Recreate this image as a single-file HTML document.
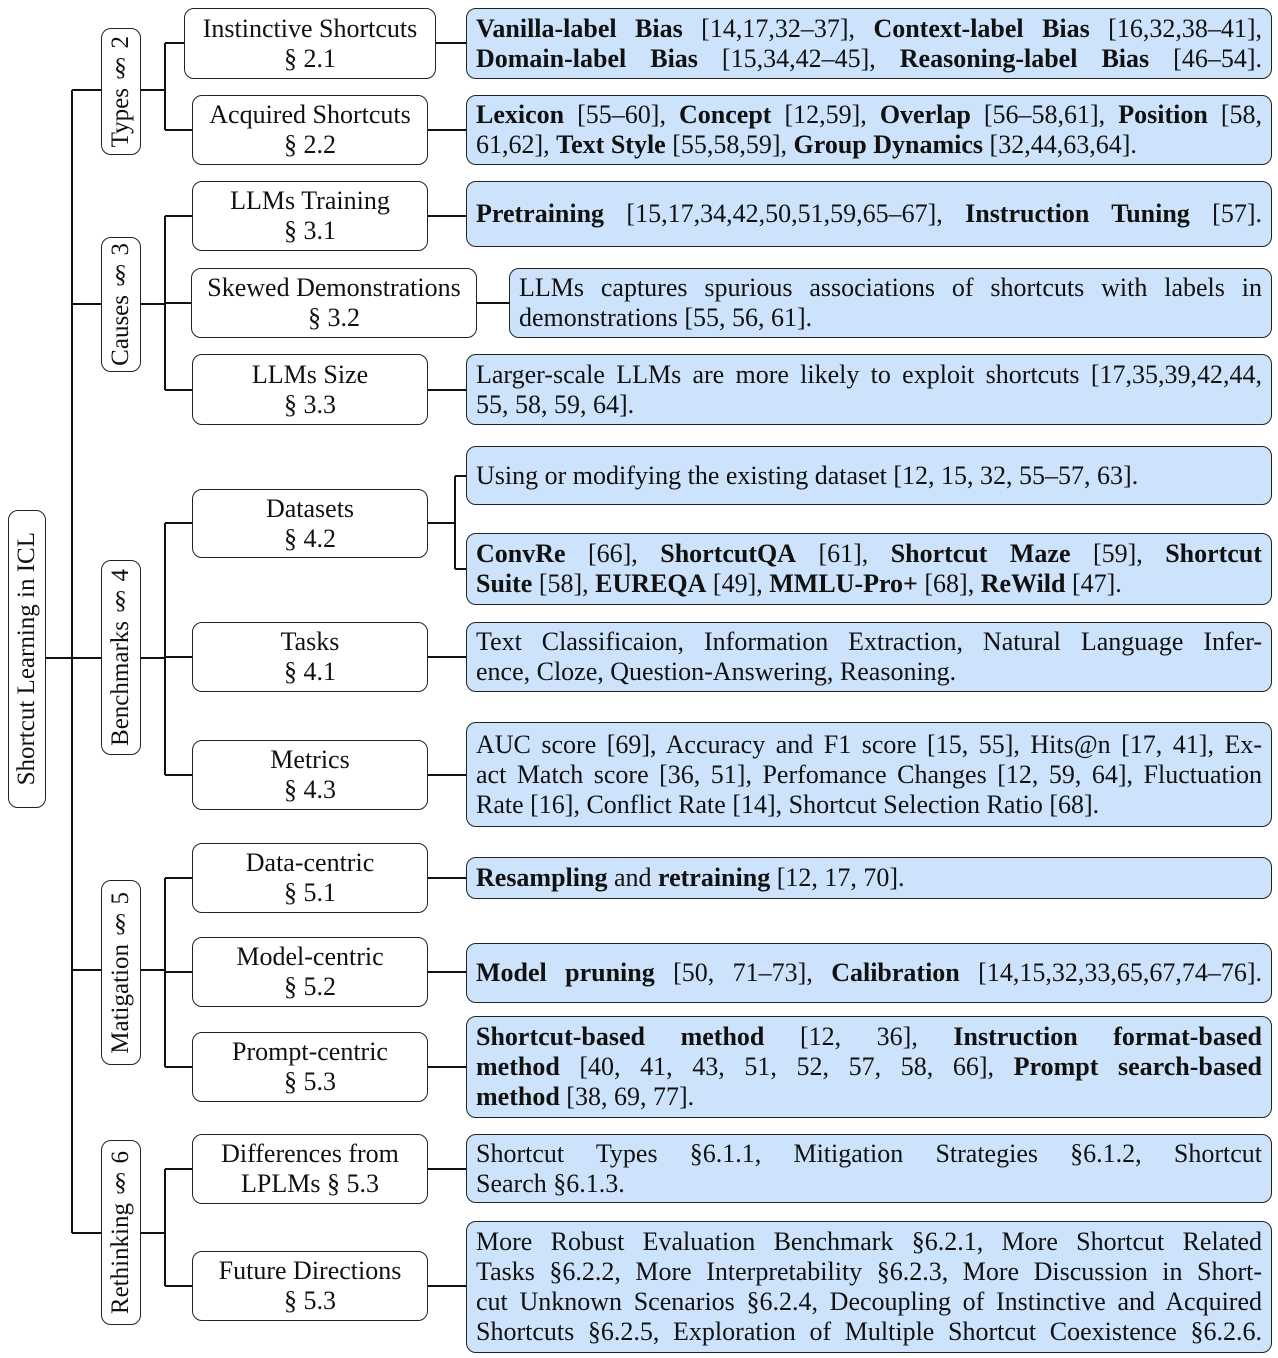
<!DOCTYPE html>
<html><head><meta charset="utf-8"><style>
body{margin:0;width:1278px;height:1358px;background:#fff;position:relative;font-family:"Liberation Serif",serif;color:#111;overflow:hidden}
.b{position:absolute;border:1.6px solid #222;border-radius:10px;box-sizing:border-box;background:#fff}
.v{display:flex;align-items:center;justify-content:center;font-size:25px}
.v span{writing-mode:vertical-rl;transform:rotate(180deg);white-space:nowrap}
.m{display:flex;flex-direction:column;justify-content:center;align-items:center;font-size:26px;line-height:30px;text-align:center;white-space:nowrap}
.l{background:#cce3fb;display:flex;flex-direction:column;justify-content:center;padding:0 9px 0 9px;font-size:26px;line-height:30px}
.l div{white-space:nowrap;overflow:visible}
.j{text-align:justify;text-align-last:justify}
svg{position:absolute;left:0;top:0}
</style></head><body>
<svg width="1278" height="1358" stroke="#111" stroke-width="2" fill="none">
<path d="M46 658H72M72 90V1233M72 90H101M72 304H101M72 658H101M72 970H101M72 1233H101"/>
<path d="M141 90H165M165 43V130M165 43H184M165 130H192"/>
<path d="M141 304H165M165 216V390M165 216H192M165 303H191M165 390H192"/>
<path d="M141 658H165M165 523V775M165 523H192M165 657H192M165 775H192"/>
<path d="M141 970H165M165 878V1067M165 878H192M165 972H192M165 1067H192"/>
<path d="M141 1233H165M165 1169V1286M165 1169H192M165 1286H192"/>
<path d="M436 43H466M428 130H466M428 216H466M477 303H509M428 390H466"/>
<path d="M428 523H455M455 476V569M455 476H466M455 569H466"/>
<path d="M428 657H466M428 775H466M428 878H466M428 972H466M428 1067H466M428 1169H466M428 1286H466"/>
</svg>
<div class="b v" style="left:8px;top:510px;width:38px;height:298px"><span>Shortcut Learning in ICL</span></div>
<div class="b v" style="left:101px;top:28px;width:40px;height:127px"><span>Types § 2</span></div>
<div class="b v" style="left:101px;top:237px;width:40px;height:135px"><span>Causes § 3</span></div>
<div class="b v" style="left:101px;top:560px;width:40px;height:195px"><span>Benchmarks § 4</span></div>
<div class="b v" style="left:101px;top:880px;width:40px;height:185px"><span>Matigation § 5</span></div>
<div class="b v" style="left:101px;top:1140px;width:40px;height:185px"><span>Rethinking § 6</span></div>

<div class="b m" style="left:184px;top:8px;width:252px;height:71px">Instinctive Shortcuts<br>§ 2.1</div>
<div class="b m" style="left:192px;top:95px;width:236px;height:70px">Acquired Shortcuts<br>§ 2.2</div>
<div class="b m" style="left:192px;top:181px;width:236px;height:70px">LLMs Training<br>§ 3.1</div>
<div class="b m" style="left:191px;top:268px;width:286px;height:70px">Skewed Demonstrations<br>§ 3.2</div>
<div class="b m" style="left:192px;top:354px;width:236px;height:71px">LLMs Size<br>§ 3.3</div>
<div class="b m" style="left:192px;top:489px;width:236px;height:69px">Datasets<br>§ 4.2</div>
<div class="b m" style="left:192px;top:622px;width:236px;height:70px">Tasks<br>§ 4.1</div>
<div class="b m" style="left:192px;top:740px;width:236px;height:70px">Metrics<br>§ 4.3</div>
<div class="b m" style="left:192px;top:843px;width:236px;height:70px">Data-centric<br>§ 5.1</div>
<div class="b m" style="left:192px;top:937px;width:236px;height:70px">Model-centric<br>§ 5.2</div>
<div class="b m" style="left:192px;top:1032px;width:236px;height:70px">Prompt-centric<br>§ 5.3</div>
<div class="b m" style="left:192px;top:1134px;width:236px;height:70px">Differences from<br>LPLMs § 5.3</div>
<div class="b m" style="left:192px;top:1251px;width:236px;height:70px">Future Directions<br>§ 5.3</div>

<div class="b l" style="left:466px;top:8px;width:806px;height:71px"><div class="j"><b>Vanilla-label Bias</b> [14,17,32–37], <b>Context-label Bias</b> [16,32,38–41],</div><div class="j"><b>Domain-label Bias</b> [15,34,42–45], <b>Reasoning-label Bias</b> [46–54].</div></div>
<div class="b l" style="left:466px;top:95px;width:806px;height:70px"><div class="j"><b>Lexicon</b> [55–60], <b>Concept</b> [12,59], <b>Overlap</b> [56–58,61], <b>Position</b> [58,</div><div>61,62], <b>Text Style</b> [55,58,59], <b>Group Dynamics</b> [32,44,63,64].</div></div>
<div class="b l" style="left:466px;top:181px;width:806px;height:66px"><div class="j"><b>Pretraining</b> [15,17,34,42,50,51,59,65–67], <b>Instruction Tuning</b> [57].</div></div>
<div class="b l" style="left:509px;top:268px;width:763px;height:70px"><div class="j">LLMs captures spurious associations of shortcuts with labels in</div><div>demonstrations [55, 56, 61].</div></div>
<div class="b l" style="left:466px;top:354px;width:806px;height:71px"><div class="j">Larger-scale LLMs are more likely to exploit shortcuts [17,35,39,42,44,</div><div>55, 58, 59, 64].</div></div>
<div class="b l" style="left:466px;top:446px;width:806px;height:59px"><div>Using or modifying the existing dataset [12, 15, 32, 55–57, 63].</div></div>
<div class="b l" style="left:466px;top:533px;width:806px;height:72px"><div class="j"><b>ConvRe</b> [66], <b>ShortcutQA</b> [61], <b>Shortcut Maze</b> [59], <b>Shortcut</b></div><div><b>Suite</b> [58], <b>EUREQA</b> [49], <b>MMLU-Pro+</b> [68], <b>ReWild</b> [47].</div></div>
<div class="b l" style="left:466px;top:622px;width:806px;height:70px"><div class="j">Text Classificaion, Information Extraction, Natural Language Infer-</div><div>ence, Cloze, Question-Answering, Reasoning.</div></div>
<div class="b l" style="left:466px;top:722px;width:806px;height:105px"><div class="j">AUC score [69], Accuracy and F1 score [15, 55], Hits@n [17, 41], Ex-</div><div class="j">act Match score [36, 51], Perfomance Changes [12, 59, 64], Fluctuation</div><div>Rate [16], Conflict Rate [14], Shortcut Selection Ratio [68].</div></div>
<div class="b l" style="left:466px;top:857px;width:806px;height:42px"><div><b>Resampling</b> and <b>retraining</b> [12, 17, 70].</div></div>
<div class="b l" style="left:466px;top:943px;width:806px;height:60px"><div class="j"><b>Model pruning</b> [50, 71–73], <b>Calibration</b> [14,15,32,33,65,67,74–76].</div></div>
<div class="b l" style="left:466px;top:1016px;width:806px;height:102px"><div class="j"><b>Shortcut-based method</b> [12, 36], <b>Instruction format-based</b></div><div class="j"><b>method</b> [40, 41, 43, 51, 52, 57, 58, 66], <b>Prompt search-based</b></div><div><b>method</b> [38, 69, 77].</div></div>
<div class="b l" style="left:466px;top:1134px;width:806px;height:69px"><div class="j">Shortcut Types §6.1.1, Mitigation Strategies §6.1.2, Shortcut</div><div>Search §6.1.3.</div></div>
<div class="b l" style="left:466px;top:1221px;width:806px;height:132px"><div class="j">More Robust Evaluation Benchmark §6.2.1, More Shortcut Related</div><div class="j">Tasks §6.2.2, More Interpretability §6.2.3, More Discussion in Short-</div><div class="j">cut Unknown Scenarios §6.2.4, Decoupling of Instinctive and Acquired</div><div class="j">Shortcuts §6.2.5, Exploration of Multiple Shortcut Coexistence §6.2.6.</div></div>
</body></html>
